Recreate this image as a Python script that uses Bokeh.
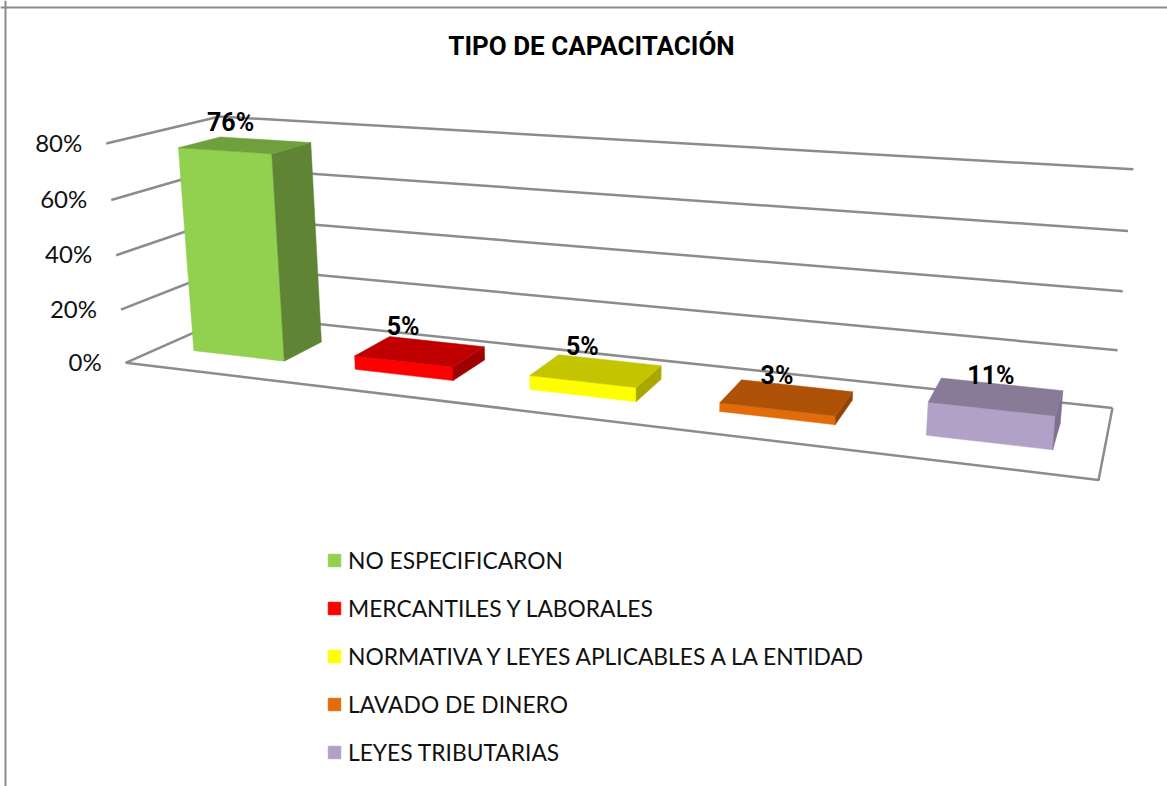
import numpy as np
from bokeh.plotting import figure
from bokeh.models import Range1d, Legend, LegendItem, Span
from bokeh.core.properties import value
from bokeh.embed import file_html
from bokeh.resources import INLINE

# ---- data
title = "TIPO DE CAPACITACIÓN"
categories = ["NO ESPECIFICARON", "MERCANTILES Y LABORALES",
              "NORMATIVA Y LEYES APLICABLES A LA ENTIDAD",
              "LAVADO DE DINERO", "LEYES TRIBUTARIAS"]
values = [76, 5, 5, 3, 11]
value_labels = ["76%", "5%", "5%", "3%", "11%"]
ticks = [0, 20, 40, 60, 80]
tick_labels = ["0%", "20%", "40%", "60%", "80%"]
front_colors = ["#92D050", "#FF0000", "#FFFF00", "#E36C0A", "#B2A1C7"]
top_colors = ["#6FA03D", "#C00000", "#C4C400", "#AD5207", "#887B98"]
side_colors = ["#5F8534", "#A00000", "#A8A800", "#8F4507", "#7E7190"]

# ---- camera: world (u along categories, d depth, h value/80) to canvas
W, H = 1167, 786
AXIS_MAX = 80.0
world = [(0, 0, 0), (1, 0, 0), (0, 1, 0), (1, 1, 0), (0, 0, 1), (0, 1, 1), (1, 1, 1)]
canvas = [(125, 362), (1098, 480), (233, 315), (1112, 407), (106, 143), (219, 116), (1133, 169)]
A, b = [], []
for (u, d, h), (x, y) in zip(world, canvas):
    A.append([u, d, h, 1, 0, 0, 0, 0, -x * u, -x * d, -x * h]); b.append(x)
    A.append([0, 0, 0, 0, u, d, h, 1, -y * u, -y * d, -y * h]); b.append(y)
s = np.linalg.lstsq(np.array(A, float), np.array(b, float), rcond=None)[0]
P = np.append(s, 1.0).reshape(3, 4)


def proj(u, d, val):
    q = P @ np.array([u, d, val / AXIS_MAX, 1.0])
    return q[0] / q[2], q[1] / q[2]


def face(corners):
    pts = [proj(*c) for c in corners]
    return [p[0] for p in pts], [p[1] for p in pts]


p = figure(width=W, height=H, x_range=Range1d(0, W), y_range=Range1d(H, 0),
           x_axis_type=None, y_axis_type=None, toolbar_location=None,
           output_backend="svg", min_border=0, outline_line_color=None,
           margin=0)
p.grid.visible = False

GRID = "#8C8C8C"
p.add_layout(Span(location=5, dimension="height", line_color=GRID, line_width=2))
p.add_layout(Span(location=7, dimension="width", line_color=GRID, line_width=2))

# walls and floor
for t in ticks:
    a, b_ = proj(0, 0, t), proj(0, 1, t)
    c = proj(1, 1, t)
    p.line([a[0], b_[0], c[0]], [a[1], b_[1], c[1]], line_color=GRID, line_width=2.5)
fx, fy = face([(0, 0, 0), (1, 0, 0), (1, 1, 0)])
p.line(fx, fy, line_color=GRID, line_width=2.5)

# tick labels
tx, ty = zip(*[proj(0, 0, t) for t in ticks])
p.text(list(tx), list(ty), text=tick_labels, text_align="right", text_baseline="middle",
       x_offset=-24, y_offset=-1.5, text_font=value("Lato"), text_font_size="24px",
       text_color="#111111")

# bars
BAR_LO, BAR_HI = 0.21, 0.78
D0, D1 = 0.31, 0.69
LABEL_NUDGE = [(6, -3), (0, -1), (0, 0), (0, 4), (0, 5)]
n = len(values)
items = []
for i, v in enumerate(values):
    u0 = (i + BAR_LO) / n
    u1 = (i + BAR_HI) / n
    fxs, fys = face([(u0, D0, 0), (u1, D0, 0), (u1, D0, v), (u0, D0, v)])
    sxs, sys_ = face([(u1, D0, 0), (u1, D1, 0), (u1, D1, v), (u1, D0, v)])
    txs, tys = face([(u0, D0, v), (u1, D0, v), (u1, D1, v), (u0, D1, v)])
    r = p.patch(fxs, fys, fill_color=front_colors[i], line_color=front_colors[i], line_width=0.5)
    p.patch(sxs, sys_, fill_color=side_colors[i], line_color=side_colors[i], line_width=0.5)
    p.patch(txs, tys, fill_color=top_colors[i], line_color=top_colors[i], line_width=0.5)
    items.append(LegendItem(label=categories[i], renderers=[r]))
    lx = proj((u0 + u1) / 2, D0, v)[0]
    ly = proj((u0 + u1) / 2, D1, v)[1]
    p.text([lx + LABEL_NUDGE[i][0]], [ly - 14 + LABEL_NUDGE[i][1]], text=[value_labels[i]],
           text_align="center", text_baseline="middle",
           text_font=value("Roboto"), text_font_style="bold",
           text_font_size="25px", text_color="#000000")

p.text([591], [45], text=[title], text_align="center", text_baseline="middle",
       text_font=value("Roboto"), text_font_style="bold",
       text_font_size="26px", text_color="#000000")

legend = Legend(items=items, location=(326, 20), orientation="vertical",
                background_fill_alpha=0, border_line_color=None, margin=0, padding=0,
                spacing=20, glyph_width=16, glyph_height=16, label_height=22,
                label_standoff=6, label_text_font="Lato", label_text_font_size="22.8px",
                label_text_color="#111111")
p.add_layout(legend, "center")

open("out.html", "w").write(file_html(p, INLINE))
